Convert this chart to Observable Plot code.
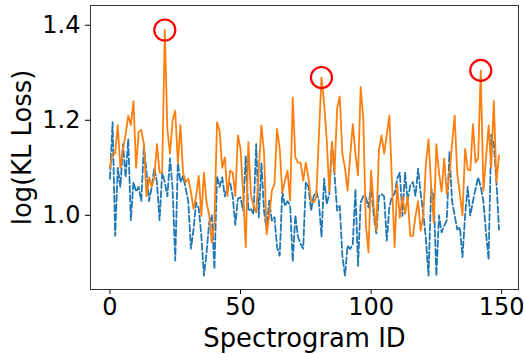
<!DOCTYPE html>
<html>
<head>
<meta charset="utf-8">
<script src="https://cdn.jsdelivr.net/npm/d3@7"></script>
<script src="https://cdn.jsdelivr.net/npm/@observablehq/plot@0.6"></script>
<style>
  html, body { margin: 0; padding: 0; background: #fff; }
  #chart { width: 524px; height: 354px; }
</style>
</head>
<body>
<div id="chart"></div>
<script>
// Spectrogram IDs 0..149
const spectrogramIds = d3.range(150);

// Blue dashed series (log KL loss)
const blueSeries = [
  1.077, 1.196, 0.957, 1.10, 1.06, 1.15, 1.08, 1.16, 0.99, 1.07,
  1.05, 1.06, 1.03, 1.15, 1.09, 1.03, 1.06, 1.10, 1.07, 0.99,
  1.09, 1.07, 1.04, 1.12, 1.056, 0.905, 1.11, 1.07, 1.083, 1.056,
  1.03, 0.93, 0.97, 1.027, 1.015, 0.957, 0.873, 0.922, 0.985, 1.0,
  0.887, 1.083, 1.06, 1.08, 1.04, 1.06, 1.07, 1.04, 0.98, 1.035,
  1.038, 1.01, 1.125, 1.01, 1.013, 1.003, 1.15, 0.996, 1.11, 1.01,
  0.968, 1.031, 0.989, 0.996, 0.933, 0.915, 1.05, 1.02, 1.03, 1.02,
  0.903, 1.0, 0.955, 0.94, 0.93, 1.07, 1.06, 1.01, 1.04, 1.05,
  1.03, 0.955, 1.077, 1.024, 1.045, 1.15, 1.087, 1.01, 1.02, 0.915,
  0.873, 0.936, 0.929, 0.94, 1.055, 0.894, 1.027, 1.041, 1.038, 1.017,
  1.062, 1.0, 0.962, 1.04, 1.045, 1.04, 0.947, 1.017, 1.04, 1.045,
  1.077, 1.09, 0.999, 1.09, 1.031, 1.063, 1.07, 1.041, 1.098, 1.045,
  1.003, 0.95, 0.873, 1.056, 1.04, 0.873, 1.0, 0.964, 0.978, 0.99,
  1.133, 1.03, 1.0, 0.97, 0.975, 0.912, 1.0, 1.06, 1.0, 1.03,
  1.056, 1.08, 1.06, 1.03, 0.964, 0.907, 1.17, 1.15, 1.07, 0.97
];

// Orange solid series (log KL loss)
const orangeSeries = [
  1.10, 1.13, 1.13, 1.19, 1.10, 1.14, 1.17, 1.21, 1.19, 1.24,
  1.10, 1.175, 1.18, 1.15, 1.04, 1.08, 1.06, 1.08, 1.15, 1.09,
  1.09, 1.39, 1.18, 1.13, 1.20, 1.22, 1.11, 1.19, 1.09, 1.07,
  1.077, 1.05, 1.013, 1.04, 1.083, 0.999, 1.09, 1.027, 1.0, 0.943,
  0.985, 1.196, 1.178, 1.10, 1.122, 1.041, 1.094, 1.09, 1.041, 1.168,
  1.14, 1.048, 0.933, 1.154, 1.041, 1.02, 1.006, 1.097, 1.189, 1.133,
  0.96, 0.999, 1.052, 1.066, 1.182, 1.14, 1.048, 1.073, 1.094, 1.031,
  1.248, 1.122, 1.111, 1.111, 1.073, 1.111, 1.08, 1.031, 1.027, 1.038,
  1.165, 1.29, 1.235, 1.16, 1.05, 1.155, 1.09, 1.225, 1.25, 1.13,
  1.10, 1.052, 1.126, 1.192, 1.13, 1.084, 1.27, 1.205, 0.98, 0.922,
  1.094, 1.02, 0.968, 1.136, 1.168, 1.13, 1.17, 1.21, 1.07, 0.933,
  1.065, 0.995, 1.04, 1.003, 1.04, 0.957, 0.957, 0.998, 1.03, 0.968,
  1.0, 1.11, 1.16, 1.06, 0.985, 1.15, 1.09, 1.05, 1.12, 1.045,
  1.085, 1.15, 1.21, 1.087, 1.045, 1.0, 1.14, 1.097, 1.094, 1.192,
  1.111, 1.12, 1.305, 1.052, 1.12, 1.189, 1.101, 1.241, 1.07, 1.126
];

// Highlighted peaks (circled in red)
const peakIds = [21, 81, 142];

const xTicks = [0, 50, 100, 150];
const yTicks = [1.0, 1.2, 1.4];
const xLabel = "Spectrogram ID";
const yLabel = "log(KL Loss)";

const data = spectrogramIds.map((id, i) => ({id, blue: blueSeries[i], orange: orangeSeries[i]}));
const peaks = peakIds.map(id => ({id, value: orangeSeries[id]}));

const chart = Plot.plot({
  width: 524,
  height: 354,
  marginLeft: 90,
  marginRight: 6,
  marginTop: 5,
  marginBottom: 65,
  style: {fontFamily: "DejaVu Sans", fontSize: "24px", color: "black", background: "white", overflow: "visible"},
  x: {domain: [-7.45, 156.45]},
  y: {domain: [0.844, 1.4415]},
  marks: [
    Plot.axisX({ticks: xTicks, tickSize: 5, tickPadding: 3, tickFormat: d3.format("d"), label: null, fontSize: 24}),
    Plot.axisY({ticks: yTicks, tickSize: 5, tickPadding: 5, tickFormat: d3.format(".1f"), label: null, fontSize: 24}),
    Plot.text([xLabel], {text: d => d, frameAnchor: "bottom", textAnchor: "middle", lineAnchor: "middle", dy: 49, fontSize: 25.8, fill: "black"}),
    Plot.text([yLabel], {text: d => d, frameAnchor: "left", textAnchor: "middle", lineAnchor: "middle", rotate: -90, dx: -68, fontSize: 25.8, fill: "black"}),
    Plot.line(data, {x: "id", y: "blue", stroke: "#1f77b4", strokeWidth: 1.8, strokeDasharray: "6.5,2.8"}),
    Plot.line(data, {x: "id", y: "orange", stroke: "#ff7f0e", strokeWidth: 1.8}),
    Plot.dot(peaks, {x: "id", y: "value", r: 10.5, stroke: "red", strokeWidth: 2.2, fill: "none"}),
    Plot.frame({stroke: "#333", strokeWidth: 1})
  ]
});
document.getElementById("chart").appendChild(chart);
</script>
</body>
</html>
